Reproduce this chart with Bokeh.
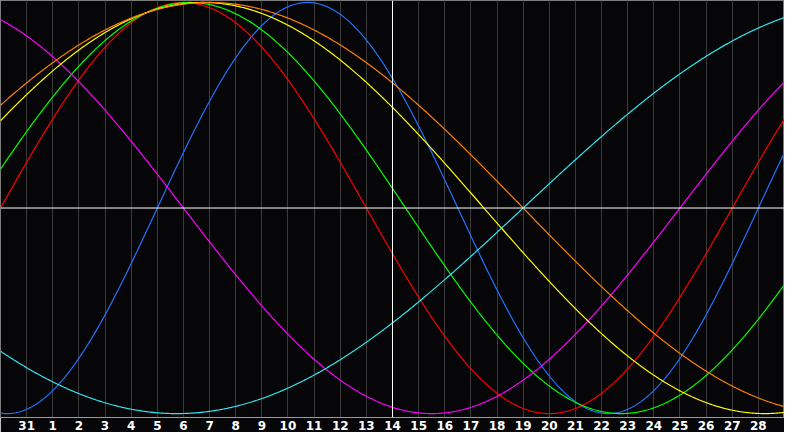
import numpy as np
from bokeh.plotting import figure
from bokeh.models import Range1d, FixedTicker, Span, ColumnDataSource
from bokeh.embed import file_html
from bokeh.resources import INLINE

# ---- data ----
day_positions = list(range(1, 30))
day_labels = ["31"] + [str(d) for d in range(1, 29)]
today_position = 15  # labelled 14

cycle_names = ["Physical", "Emotional", "Intellectual", "Intuitive",
               "Aesthetic", "Awareness", "Spiritual"]
cycle_periods = [23, 28, 33, 38, 43, 48, 53]
cycle_zero_up_day = [6, 0, -1, 26, -3, -4, 20]
cycle_colors = ["#2272ff", "#ff0000", "#00ff00", "#ff00ff",
                "#ffff00", "#ff8000", "#33e6f0"]

BG = "#060608"

p = figure(width=784, height=432, output_backend="svg", toolbar_location=None,
           x_range=Range1d(0, 30), y_range=Range1d(-1.019, 1.0095),
           y_axis_location=None, min_border=0,
           background_fill_color=BG, border_fill_color=BG)
p.outline_line_color = "#7c7c7c"
p.outline_line_width = 1
p.ygrid.visible = False

ax = p.xaxis[0]
ax.ticker = FixedTicker(ticks=day_positions)
ax.major_label_overrides = {pos: lab for pos, lab in zip(day_positions, day_labels)}
ax.axis_line_color = "#9a9a9a"
ax.axis_line_width = 1
ax.major_tick_line_color = None
ax.minor_tick_line_color = None
ax.major_tick_out = 0
ax.major_tick_in = 0
ax.major_label_standoff = 3
ax.major_label_text_color = "white"
ax.major_label_text_font = "DejaVu Sans"
ax.major_label_text_font_style = "bold"
ax.major_label_text_font_size = "12px"

p.xgrid.ticker = FixedTicker(ticks=day_positions)
p.xgrid.grid_line_color = "#3a3a3a"
p.xgrid.grid_line_width = 1

t = np.linspace(0, 30, 901)
for name, per, z, col in zip(cycle_names, cycle_periods, cycle_zero_up_day, cycle_colors):
    src = ColumnDataSource(dict(x=t, y=np.sin(2 * np.pi * (t - z) / per)))
    p.line("x", "y", source=src, line_color=col, line_width=1.2)

p.add_layout(Span(location=0, dimension="width", line_color="white", line_width=1))
p.add_layout(Span(location=today_position, dimension="height", line_color="white", line_width=1))

open("out.html", "w").write(file_html(p, INLINE))
